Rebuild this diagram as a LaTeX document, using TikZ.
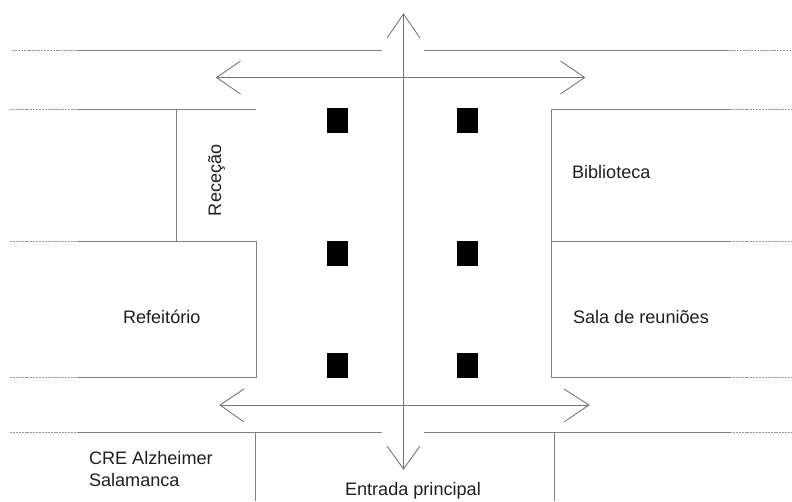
\documentclass[tikz,border=0pt]{standalone}
\usepackage{fontspec}
\setmainfont{Liberation Sans}
\definecolor{wallc}{gray}{0.50}
\definecolor{dashc}{gray}{0.60}
\definecolor{arrowc}{gray}{0.45}
\definecolor{textc}{gray}{0.12}
\tikzset{
  wall/.style={draw=wallc,line width=1pt},
  stub/.style={draw=dashc,line width=0.9pt,dash pattern=on 2pt off 0.9pt},
  axis/.style={draw=arrowc,line width=1pt},
  head/.style={draw=arrowc,line width=0.85pt,line join=miter},
  pillar/.style={fill=black,draw=none},
  label/.style={anchor=base west,inner sep=0pt,outer sep=0pt,text=textc,font=\fontsize{18.1}{20}\selectfont}
}
\begin{document}
\begin{tikzpicture}[x=1pt,y=-1pt]
\useasboundingbox (0,0) rectangle (792,501);
% dashed ends of the walls
\foreach \yy/\xa in {50.5/12,109.5/10,241/10,377/10,432/10}{
  \draw[stub] (\xa,\yy) -- (82,\yy);
}
\foreach \yy/\xa in {50.5/728,109.5/730,241/730,377/730,432/730}{
  \draw[stub] (\xa,\yy) -- (792,\yy);
}
% corridor walls
\draw[wall] (78,50.5) -- (382,50.5);
\draw[wall] (424,50.5) -- (728,50.5);
\draw[wall] (78,109.5) -- (256,109.5);
\draw[wall] (78,241) -- (256,241) -- (256,377) -- (78,377);
\draw[wall] (176,109.5) -- (176,241);
\draw[wall] (730,109.5) -- (551,109.5) -- (551,377) -- (730,377);
\draw[wall] (551,241) -- (730,241);
\draw[wall] (78,432) -- (382,432);
\draw[wall] (424,432) -- (730,432);
\draw[wall] (255.5,432) -- (255.5,501);
\draw[wall] (554,432) -- (554,501);
% pillars
\foreach \px in {327.3,457}{
  \foreach \py/\qy in {108/133,241/266,353/378}{
    \fill[pillar] (\px,\py) rectangle (\px+20.8,\qy);
  }
}
% arrows
\coordinate (vt) at (403.5,14);
\coordinate (vb) at (403.5,469);
\coordinate (ut) at (216.5,77.5);
\coordinate (ur) at (584.7,77.5);
\coordinate (lt) at (220,405);
\coordinate (lr) at (589,405);
\draw[axis] (vt) -- (vb);
\draw[axis] (ut) -- (ur);
\draw[axis] (lt) -- (lr);
\draw[head] (387,38) -- (vt) -- (420,38);
\draw[head] (387,446) -- (vb) -- (420,446);
\draw[head] (240.5,61) -- (ut) -- (240.5,94);
\draw[head] (560.5,61) -- (ur) -- (560.5,94);
\draw[head] (244,389) -- (lt) -- (244,422);
\draw[head] (564,389) -- (lr) -- (564,422);
% labels
\node[label,rotate=90] (rececao) at (221,216) {Receção};
\node[label] (biblioteca) at (572,178) {Biblioteca};
\node[label] (refeitorio) at (123,323) {Refeitório};
\node[label] (sala) at (573,323) {Sala de reuniões};
\node[label] (cre) at (89,464) {CRE Alzheimer};
\node[label] (salamanca) at (89,486) {Salamanca};
\node[label] (entrada) at (345,495) {Entrada principal};
\end{tikzpicture}
\end{document}
